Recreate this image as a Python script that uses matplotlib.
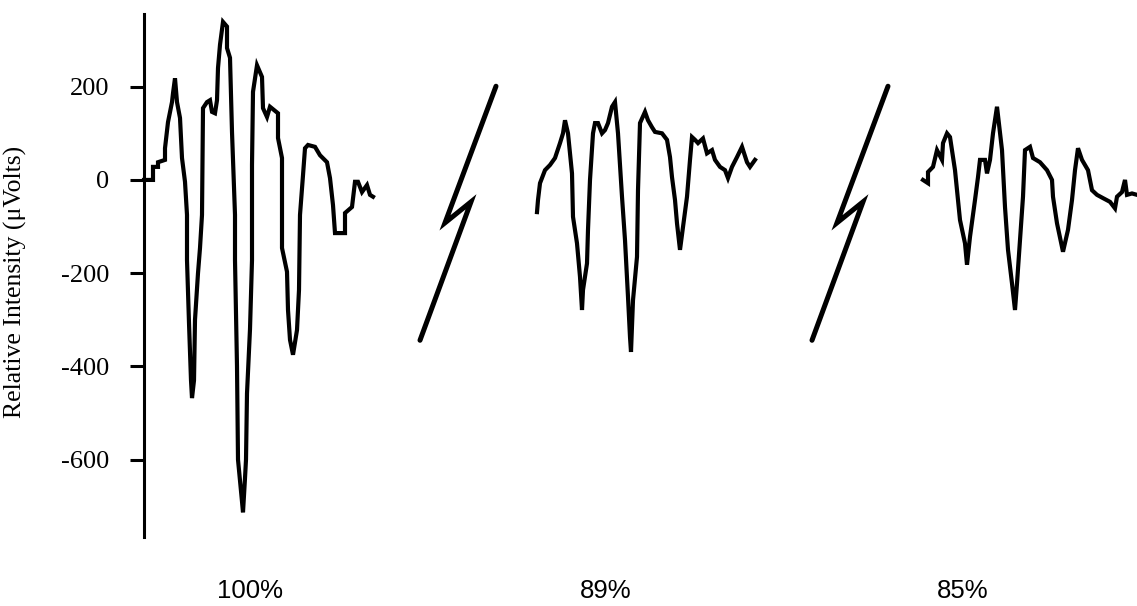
import matplotlib.pyplot as plt

plt.rcParams['axes.unicode_minus'] = False

# evoked response traces (time in ms, amplitude in uVolts)
t_100 = [0, 9, 9, 14, 14, 21, 21, 24, 28, 29, 31, 33, 36, 38, 41, 43, 43, 45, 47, 48,
         50, 51, 54, 56, 58, 59, 63, 66, 68, 71, 73, 74, 76, 79, 83, 83, 86, 88, 91, 91,
         93, 94, 98, 99, 101, 102, 103, 106, 108, 108, 109, 113, 118, 119, 123, 126, 134, 134, 138, 138,
         143, 144, 146, 149, 153, 155, 156, 159, 161, 164, 171, 176, 183, 186, 189, 191, 201, 201, 208, 211,
         214, 218, 223, 226, 229]
v_100 = [0, 0, 28, 28, 38, 43, 68, 124, 167, 186, 218, 167, 133, 47, -4, -75, -172, -307, -430, -468,
         -430, -300, -200, -146, -75, 154, 167, 171, 146, 143, 171, 240, 290, 339, 329, 283, 262, 103, -75, -172,
         -400, -600, -690, -713, -640, -600, -458, -320, -172, 32, 189, 246, 221, 154, 135, 157, 143, 90, 47, -146,
         -197, -279, -343, -375, -322, -236, -75, 10, 68, 75, 71, 53, 38, 4, -54, -114, -114, -71, -58, -4,
         -4, -26, -11, -32, -36]

t_89 = [0, 1, 3, 8, 13, 18, 23, 26, 28, 31, 35, 36, 40, 43, 45, 46, 50, 51, 53, 56,
        58, 61, 65, 68, 71, 75, 78, 81, 85, 88, 91, 93, 94, 96, 100, 101, 103, 108, 111, 115,
        118, 125, 130, 133, 135, 138, 140, 143, 146, 150, 153, 155, 158, 161, 166, 170, 175, 178, 183, 188,
        191, 195, 200, 205, 210, 213, 218]
v_89 = [-69, -43, -7, 21, 32, 47, 79, 100, 128, 100, 14, -79, -136, -208, -279, -236, -179, -107, 0, 100,
        122, 122, 100, 107, 122, 157, 167, 100, -36, -129, -251, -337, -369, -258, -165, -22, 122, 146, 128, 113,
        103, 100, 86, 49, 6, -43, -93, -150, -101, -36, 43, 92, 86, 79, 89, 57, 64, 43, 28, 21,
        4, 28, 49, 71, 38, 28, 43]

t_85 = [0, 5, 5, 10, 14, 19, 20, 24, 27, 32, 37, 42, 44, 47, 52, 55, 57, 62, 64, 67,
        70, 74, 79, 82, 85, 89, 92, 94, 97, 100, 102, 107, 110, 117, 124, 129, 130, 134, 140, 145,
        149, 152, 155, 159, 165, 169, 174, 180, 187, 192, 194, 199, 202, 204, 209, 214]
v_85 = [0, -7, 17, 28, 64, 43, 79, 100, 92, 21, -86, -136, -182, -122, -43, 6, 43, 43, 14, 43,
        100, 157, 64, -58, -150, -222, -279, -222, -129, -36, 64, 71, 47, 38, 21, 0, -36, -93, -154, -107,
        -43, 21, 68, 43, 21, -22, -32, -39, -47, -61, -36, -26, 0, -32, -29, -32]

labels = ['100%', '89%', '85%']
traces = [(t_100, v_100), (t_89, v_89), (t_85, v_85)]
yticks = [200, 0, -200, -400, -600]

# layout
offsets = [0, 393, 779]
label_x = [0.22, 0.533, 0.847]
break_x = [314, 706]

fig = plt.figure(figsize=(11.37, 6.06), dpi=100)
ax = fig.add_axes([0, 0, 1, 1])
ax.set_xlim(-144, 993)
ax.set_ylim(-914, 386)

for (t, v), off in zip(traces, offsets):
    ax.plot([ti + off for ti in t], v, color='black', lw=3.0, solid_joinstyle='miter')

# axis break marks (lightning shape)
for xc in break_x:
    bx = [xc + 38, xc - 13, xc + 13, xc - 38]
    by = [201, -92, -47, -344]
    ax.plot(bx, by, color='black', lw=3.6, solid_capstyle='round', solid_joinstyle='miter')

for s in ['top', 'right', 'bottom']:
    ax.spines[s].set_visible(False)
ax.spines['left'].set_position(('data', 0))
ax.spines['left'].set_bounds(-767, 356)
ax.spines['left'].set_linewidth(2.2)
ax.set_xticks([])
ax.set_yticks(yticks)
ax.set_yticklabels([str(y) for y in yticks], family='Liberation Serif', fontsize=19)
ax.tick_params(axis='y', direction='out', length=10, width=2.2, pad=15)

ax.set_ylabel('Relative Intensity (\u03bcVolts)', family='Liberation Serif', fontsize=18.5)
ax.yaxis.set_label_coords(0.024, 0.535)

for lx, lab in zip(label_x, labels):
    ax.text(lx, 0.025, lab, transform=ax.transAxes, ha='center', va='center',
            family='Liberation Sans', fontsize=18.5)

fig.savefig('out.png', dpi=100)
